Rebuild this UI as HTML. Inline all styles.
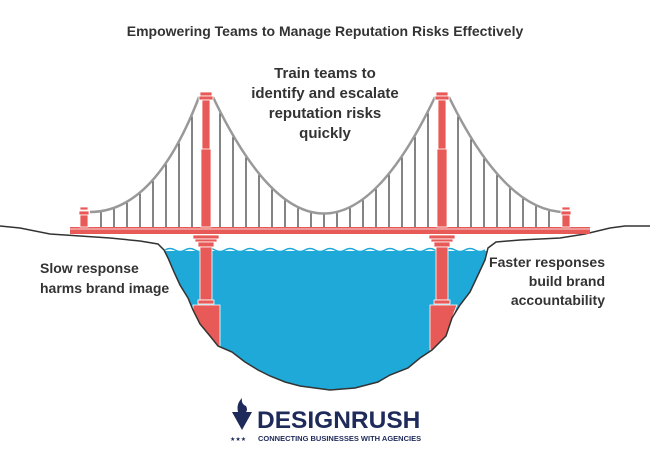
<!DOCTYPE html>
<html><head><meta charset="utf-8"><style>
body{margin:0;background:#fff;}
svg{display:block;font-family:"Liberation Sans",sans-serif;}
</style></head><body>
<svg id="s" width="650" height="452" viewBox="0 0 650 452">
<text x="325" y="36" text-anchor="middle" font-size="14" font-weight="bold" fill="#333">Empowering Teams to Manage Reputation Risks Effectively</text>
<g font-size="15" font-weight="bold" fill="#333" text-anchor="middle">
<text x="325" y="78">Train teams to</text>
<text x="325" y="98">identify and escalate</text>
<text x="325" y="118">reputation risks</text>
<text x="325" y="138">quickly</text>
</g>
<g font-size="14" font-weight="bold" fill="#333">
<text x="40" y="273">Slow response</text>
<text x="40" y="293">harms brand image</text>
<text x="605" y="267" text-anchor="end">Faster responses</text>
<text x="605" y="286" text-anchor="end">build brand</text>
<text x="605" y="305" text-anchor="end">accountability</text>
</g>
<path d="M164,251 L488,251 L485,260 L478,275 L470,292 L460,305 L452,318 L446,336 L432,350 L420,358 L408,368 L390,375 L378,382 L355,388 L330,390 L300,386 L285,382 L270,376 L258,370 L245,362 L232,352 L218,346 L210,336 L200,324 L193,310 L188,298 L180,285 L174,272 L168,258 Z" fill="#1fa9d8"/>
<path d="M165,250 Q170,247 175,250 T185,250 T195,250 T205,250 T215,250 T225,250 T235,250 T245,250 T255,250 T265,250 T275,250 T285,250 T295,250 T305,250 T315,250 T325,250 T335,250 T345,250 T355,250 T365,250 T375,250 T385,250 T395,250 T405,250 T415,250 T425,250 T435,250 T445,250 T455,250 T465,250 T475,250 T485,250" fill="none" stroke="#1fa9d8" stroke-width="1.5"/>
<g fill="#e85a57" stroke="#fff" stroke-width="0.8">
<polygon points="193,305 220,305 220,348 210,336 200,324 193,310"/>
<polygon points="430,305 457,305 452,318 446,336 432,350 430,350"/>
</g>
<path d="M0,226 L20,228 L50,234 L80,236 L110,238 L140,241 L158,244 L164,250 L168,258 L174,272 L180,285 L188,298 L193,310 L200,324 L210,336 L218,346 L232,352 L245,362 L258,370 L270,376 L285,382 L300,386 L330,390 L355,388 L378,382 L390,375 L408,368 L420,358 L432,350 L446,336 L452,318 L460,305 L470,292 L478,275 L485,260 L488,248 L496,242 L520,240 L560,238 L585,234 L610,228 L625,226 L650,226" fill="none" stroke="#333" stroke-width="1.5"/>
<g id="h" stroke="#333" stroke-width="1.2"></g>
<g fill="none" stroke="#999" stroke-width="2.5">
<path d="M90,212 Q155,212 199,97"/>
<path d="M213,97 Q324,330 435,97"/>
<path d="M449,97 Q505,212 565,212"/>
</g>
<rect x="70" y="227" width="520" height="7" fill="#e85a57"/>
<line x1="70" y1="229" x2="590" y2="229" stroke="#fff" stroke-width="0.8"/>
<g fill="#e85a57" stroke="#fff" stroke-width="0.8">
<rect x="80" y="207" width="8" height="3"/><rect x="79" y="211" width="10" height="4"/><rect x="80" y="215" width="8" height="12"/>
<rect x="562" y="207" width="8" height="3"/><rect x="561" y="211" width="10" height="4"/><rect x="562" y="215" width="8" height="12"/>
<rect x="200" y="92" width="12" height="4"/><rect x="199" y="96" width="14" height="4"/><rect x="202" y="100" width="8" height="55"/><rect x="201" y="149" width="10" height="78"/>
<rect x="193" y="235" width="26" height="4"/><rect x="195" y="239" width="22" height="3"/><rect x="198" y="242" width="16" height="5"/>
<rect x="200" y="247" width="12" height="53"/><rect x="198" y="300" width="16" height="4"/>
<rect x="436" y="92" width="12" height="4"/><rect x="435" y="96" width="14" height="4"/><rect x="438" y="100" width="8" height="55"/><rect x="437" y="149" width="10" height="78"/>
<rect x="429" y="235" width="26" height="4"/><rect x="431" y="239" width="22" height="3"/><rect x="434" y="242" width="16" height="5"/>
<rect x="436" y="247" width="12" height="53"/><rect x="434" y="300" width="16" height="4"/>
</g>
<g fill="#1e2a5a">
<path d="M232,412 L252,412 L242,430 Z"/>
<path d="M238,412 Q236,404 242,398 Q241,404 246,406 Q248,410 246,412 Z"/>
<text x="230" y="441" font-size="6">★★★</text>
<text x="257" y="428" font-size="24.5" font-weight="bold">DESIGNRUSH</text>
<text x="258" y="441" font-size="7.5" font-weight="bold">CONNECTING BUSINESSES WITH AGENCIES</text>
</g>
</svg>
<script>
var g=document.getElementById('h'),ns='http://www.w3.org/2000/svg';
function q(p0,c,p1,x){var lo=0,hi=1;for(var i=0;i<40;i++){var t=(lo+hi)/2;var xx=(1-t)*(1-t)*p0[0]+2*(1-t)*t*c[0]+t*t*p1[0];if((xx<x)==(p0[0]<p1[0]))lo=t;else hi=t;}
var t=(lo+hi)/2;return (1-t)*(1-t)*p0[1]+2*(1-t)*t*c[1]+t*t*p1[1];}
function L(x,y){var l=document.createElementNS(ns,'line');l.setAttribute('x1',x);l.setAttribute('x2',x);l.setAttribute('y1',y);l.setAttribute('y2',227);g.appendChild(l);}
for(var x=101;x<196;x+=13)L(x,q([90,212],[155,212],[199,97],x));
for(var x=220;x<432;x+=13)L(x,q([213,97],[324,330],[435,97],x));
for(var x=458;x<560;x+=13)L(x,q([449,97],[505,212],[565,212],x));
</script>
</body></html>
